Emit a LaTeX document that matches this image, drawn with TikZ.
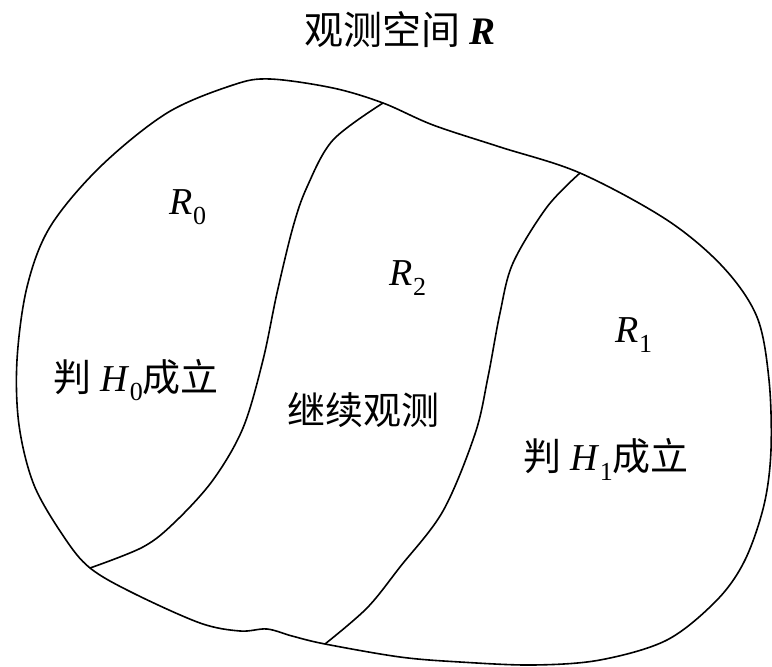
\documentclass[tikz,border=0pt]{standalone}
\usepackage{fontspec}
\setmainfont{Liberation Serif}
\newfontfamily\cjk{Noto Sans CJK SC}
\newcommand{\ssub}[1]{\raisebox{-0.26em}{\fontsize{26}{26}\selectfont #1}}
\begin{document}
\begin{tikzpicture}[x=1pt,y=-1pt,
  lbl/.style={inner sep=0pt, font=\fontsize{38}{40}\selectfont},
  edge/.style={line width=1.6pt, line join=round}]
\useasboundingbox (0,0) rectangle (772,667);
% outline
\coordinate (A) at (383,103);
\coordinate (B) at (580,173);
\coordinate (C) at (325,644);
\coordinate (D) at (90,568);
\draw[edge] plot[smooth cycle, tension=0.55] coordinates {
 (270,79) (333,88) (383,103) (433,125) (500,147) (580,173) (667,220)
 (723,267) (757,317) (769,380) (771,450) (764,505) (745,560) (717,600)
 (667,640) (600,660) (533,665) (460,662) (400,657) (325,644) (292,636)
 (267,629) (240,631) (200,623) (133,593) (90,568) (64,537) (34,485)
 (19,425) (17,360) (27,287) (50,227) (100,167) (167,113) (233,85)};
% dividers
\draw[edge] plot[smooth, tension=0.55] coordinates {
 (A) (333,140) (307,187) (293,227) (277,293) (263,360) (243,428)
 (213,480) (175,522) (143,547) (D)};
\draw[edge] plot[smooth, tension=0.55] coordinates {
 (B) (547,207) (513,263) (500,313) (488,377) (475,434) (443,511)
 (400,567) (367,608) (C)};
% labels
\node[lbl, font=\fontsize{39}{41}\selectfont] (title) at (400,30) {{\cjk 观测空间}\ \textbf{\textit{R}}};
\node[lbl] (r0) at (188,207) {\textit{R}\ssub{0}};
\node[lbl] (r2) at (408,278) {\textit{R}\ssub{2}};
\node[lbl] (r1) at (634,335) {\textit{R}\ssub{1}};
\node[lbl] (h0) at (136,380) {{\cjk 判}\ \textit{H}\ssub{0}{\cjk 成立}};
\node[lbl] (go) at (363,410) {\cjk 继续观测};
\node[lbl] (h1) at (606,459) {{\cjk 判}\ \textit{H}\ssub{1}{\cjk 成立}};
\end{tikzpicture}
\end{document}
